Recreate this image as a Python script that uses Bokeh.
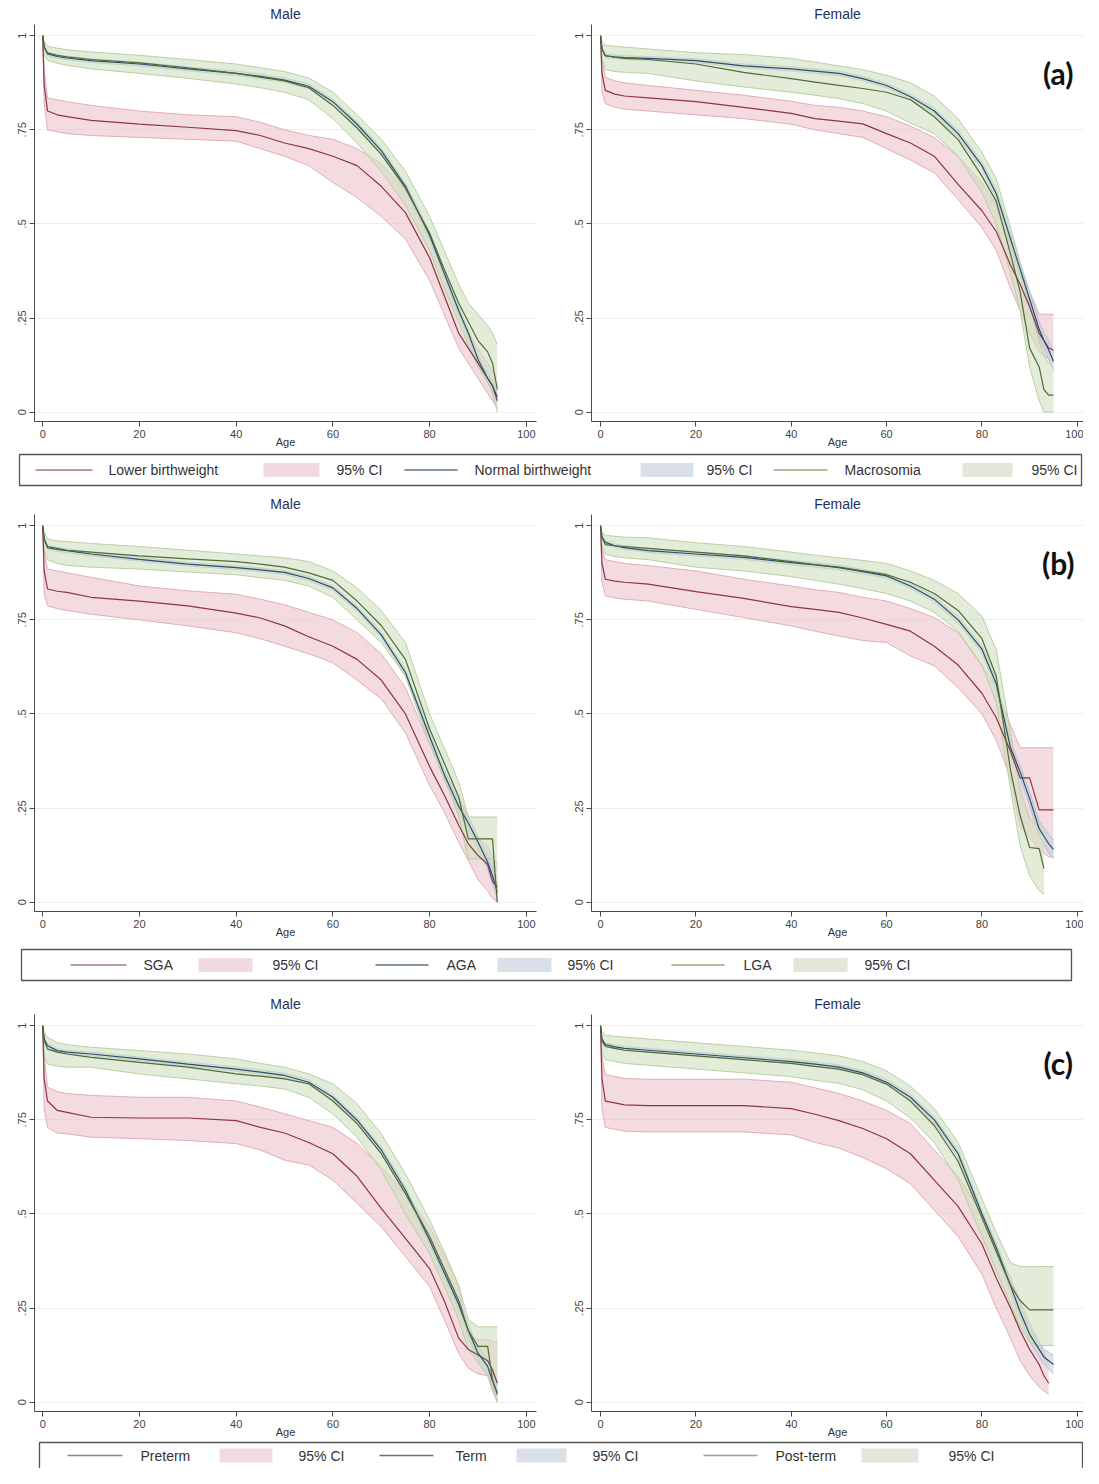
import math
from bokeh.plotting import figure
from bokeh.layouts import column, row
from bokeh.models import Range1d, FixedTicker, Label
from bokeh.embed import file_html
from bokeh.resources import INLINE
from bokeh.core.properties import value

N = float("nan")

# ---------------- data ----------------
AGE = [0, 0.3, 1, 3, 5, 10, 20, 30, 40, 45, 50, 55, 60, 65, 70, 75, 80, 83, 86, 88, 90, 92, 93, 94, 95]

# (a) Male
A_M_LBW    = [1.0, .87, .80, .79, .785, .775, .765, .757, .748, .735, .715, .70, .68, .655, .60, .53, .41, .31, .21, .17, .13, .09, .07, .03, N]
A_M_LBW_LO = [1.0, .82, .75, .745, .74, .735, .73, .725, .72, .70, .68, .655, .61, .57, .52, .46, .35, .26, .17, .13, .09, .05, .03, .01, N]
A_M_LBW_HI = [1.0, .91, .835, .83, .825, .815, .80, .79, .785, .77, .75, .735, .725, .70, .66, .59, .47, .36, .26, .21, .17, .13, .11, .07, N]
A_M_NBW    = [1.0, .97, .952, .945, .941, .934, .925, .912, .90, .892, .882, .866, .825, .765, .695, .60, .47, .37, .27, .21, .14, .09, .07, .04, N]
A_M_NBW_LO = [1.0, .966, .947, .94, .936, .929, .92, .907, .894, .886, .876, .86, .819, .758, .688, .592, .461, .36, .26, .198, .128, .078, .056, .025, N]
A_M_NBW_HI = [1.0, .974, .957, .95, .946, .939, .93, .917, .906, .898, .888, .872, .831, .772, .702, .608, .479, .38, .28, .222, .152, .102, .084, .055, N]
A_M_MAC    = [1.0, .97, .955, .948, .944, .937, .928, .915, .90, .89, .88, .862, .815, .755, .685, .595, .475, .38, .29, .24, .19, .16, .13, .06, N]
A_M_MAC_LO = [1.0, .95, .935, .927, .922, .912, .90, .887, .872, .862, .85, .83, .78, .715, .64, .55, .43, .33, .24, .18, .12, .08, .05, .0, N]
A_M_MAC_HI = [1.0, .985, .972, .967, .963, .957, .948, .937, .925, .915, .905, .888, .85, .79, .725, .64, .52, .43, .34, .29, .26, .23, .21, .18, N]

# (a) Female
A_F_LBW    = [1.0, .90, .855, .845, .84, .835, .825, .81, .794, .78, .773, .766, .74, .715, .68, .605, .535, .48, .39, .34, .28, .21, .19, .17, .165]
A_F_LBW_LO = [1.0, .85, .82, .81, .805, .80, .79, .78, .765, .75, .74, .73, .70, .67, .636, .565, .49, .43, .33, .27, .21, .16, .15, .14, .13]
A_F_LBW_HI = [1.0, .94, .89, .88, .875, .868, .855, .842, .826, .815, .81, .80, .785, .76, .73, .68, .61, .55, .44, .38, .32, .26, .26, .26, .26]
A_F_NBW    = [1.0, .965, .947, .944, .942, .94, .934, .92, .912, .906, .90, .886, .868, .838, .80, .74, .655, .58, .46, .38, .30, .22, .19, .165, .135]
A_F_NBW_LO = [1.0, .961, .942, .939, .937, .935, .929, .915, .906, .9, .894, .88, .862, .831, .792, .731, .645, .567, .445, .362, .28, .2, .168, .14, .11]
A_F_NBW_HI = [1.0, .969, .952, .949, .947, .945, .939, .925, .918, .912, .906, .892, .874, .845, .808, .749, .665, .593, .475, .398, .32, .24, .212, .19, .16]
A_F_MAC    = [1.0, .965, .947, .943, .94, .937, .925, .903, .886, .877, .868, .86, .85, .83, .785, .724, .627, .56, .42, .32, .17, .12, .06, .045, .045]
A_F_MAC_LO = [1.0, .94, .91, .905, .903, .90, .88, .864, .85, .842, .833, .82, .80, .768, .74, .68, .583, .50, .37, .27, .12, .03, .0, .0, .0]
A_F_MAC_HI = [1.0, .985, .975, .972, .97, .965, .955, .95, .94, .93, .92, .91, .895, .875, .84, .78, .69, .62, .49, .40, .28, .19, .15, .13, .12]

# (b) Male
B_M_SGA    = [1.0, .88, .832, .826, .823, .81, .80, .787, .768, .755, .734, .705, .68, .645, .59, .50, .36, .285, .205, .155, .124, .10, .055, .04, N]
B_M_SGA_LO = [1.0, .82, .787, .78, .775, .765, .75, .734, .716, .70, .68, .66, .636, .59, .54, .45, .31, .24, .16, .11, .06, .03, .01, .0, N]
B_M_SGA_HI = [1.0, .93, .885, .88, .875, .863, .84, .827, .818, .805, .79, .77, .75, .716, .66, .57, .42, .35, .28, .23, .17, .15, .12, .10, N]
B_M_AGA    = [1.0, .965, .942, .937, .934, .925, .911, .898, .889, .883, .876, .86, .835, .78, .71, .61, .44, .34, .255, .21, .16, .106, .07, .027, N]
B_M_AGA_LO = [1.0, .961, .937, .932, .929, .92, .906, .893, .884, .878, .871, .854, .829, .773, .703, .602, .43, .328, .241, .194, .142, .088, .05, .01, N]
B_M_AGA_HI = [1.0, .969, .947, .942, .939, .93, .916, .903, .894, .888, .881, .866, .841, .787, .717, .618, .45, .352, .269, .226, .178, .124, .09, .045, N]
B_M_LGA    = [1.0, .965, .945, .94, .935, .93, .92, .912, .905, .898, .89, .875, .855, .80, .735, .645, .46, .37, .28, .168, .168, .168, .168, .0, N]
B_M_LGA_LO = [1.0, .94, .91, .90, .895, .89, .885, .877, .87, .862, .855, .84, .81, .75, .69, .60, .42, .33, .23, .115, .115, .115, .115, .0, N]
B_M_LGA_HI = [1.0, .985, .965, .96, .958, .953, .945, .935, .925, .92, .915, .905, .88, .835, .775, .69, .50, .41, .32, .226, .226, .226, .226, .226, N]

# (b) Female
B_F_SGA    = [1.0, .90, .858, .853, .85, .845, .825, .807, .785, .778, .77, .755, .738, .72, .68, .63, .555, .49, .40, .33, .33, .245, .245, .245, .245]
B_F_SGA_LO = [1.0, .85, .814, .808, .805, .80, .778, .756, .734, .72, .707, .695, .69, .654, .628, .57, .50, .43, .33, .20, .17, .14, .13, .12, .12]
B_F_SGA_HI = [1.0, .94, .91, .905, .90, .894, .88, .858, .84, .83, .823, .81, .80, .78, .756, .716, .628, .57, .47, .41, .41, .41, .41, .41, .41]
B_F_AGA    = [1.0, .97, .956, .947, .942, .934, .925, .916, .902, .896, .889, .878, .867, .84, .805, .75, .672, .58, .41, .346, .275, .195, .175, .155, .14]
B_F_AGA_LO = [1.0, .966, .951, .942, .937, .929, .92, .911, .896, .89, .883, .872, .861, .833, .797, .741, .662, .567, .395, .33, .257, .175, .153, .13, .115]
B_F_AGA_HI = [1.0, .974, .961, .952, .947, .939, .93, .921, .908, .902, .895, .884, .873, .847, .813, .759, .682, .593, .425, .362, .293, .215, .197, .18, .165]
B_F_LGA    = [1.0, .97, .95, .947, .945, .94, .93, .92, .905, .897, .89, .88, .87, .85, .82, .775, .70, .60, .35, .23, .145, .142, .089, N, N]
B_F_LGA_LO = [1.0, .95, .925, .918, .915, .91, .89, .88, .865, .855, .845, .833, .82, .80, .77, .72, .63, .53, .30, .15, .07, .03, .02, N, N]
B_F_LGA_HI = [1.0, .985, .975, .972, .97, .968, .955, .945, .93, .922, .915, .908, .90, .88, .855, .82, .76, .67, .45, .30, .22, .20, .18, N, N]

# (c) Male
C_M_PRE    = [1.0, .86, .80, .775, .77, .757, .755, .755, .748, .73, .715, .69, .66, .60, .515, .435, .355, .27, .17, .14, .125, .11, .086, .05, N]
C_M_PRE_LO = [1.0, .78, .73, .715, .713, .704, .70, .695, .687, .67, .643, .63, .59, .528, .466, .387, .307, .22, .13, .09, .075, .07, .03, .0, N]
C_M_PRE_HI = [1.0, .92, .837, .825, .82, .815, .81, .81, .80, .784, .766, .748, .73, .687, .625, .554, .466, .39, .31, .175, .166, .166, .16, .16, N]
C_M_TRM    = [1.0, .965, .947, .934, .93, .925, .912, .898, .885, .877, .868, .85, .81, .749, .67, .563, .43, .345, .26, .19, .13, .095, .056, .025, N]
C_M_TRM_LO = [1.0, .961, .942, .929, .925, .92, .907, .893, .879, .871, .862, .844, .803, .742, .662, .554, .42, .333, .246, .174, .112, .075, .036, .005, N]
C_M_TRM_HI = [1.0, .969, .952, .939, .935, .93, .917, .903, .891, .883, .874, .856, .817, .756, .678, .572, .44, .357, .274, .206, .148, .115, .076, .045, N]
C_M_PST    = [1.0, .96, .938, .93, .925, .916, .903, .89, .872, .866, .859, .846, .80, .74, .66, .554, .44, .355, .27, .19, .148, .148, .06, .02, N]
C_M_PST_LO = [1.0, .92, .898, .893, .89, .89, .872, .859, .846, .84, .832, .81, .766, .704, .616, .50, .395, .31, .22, .14, .104, .07, .04, .0, N]
C_M_PST_HI = [1.0, .985, .969, .955, .95, .943, .934, .925, .912, .90, .89, .872, .846, .793, .713, .607, .484, .40, .31, .22, .20, .20, .20, .20, N]

# (c) Female
C_F_PRE    = [1.0, .86, .80, .795, .79, .788, .788, .788, .78, .765, .748, .727, .70, .66, .59, .52, .42, .33, .25, .19, .14, .10, .07, .05, N]
C_F_PRE_LO = [1.0, .78, .73, .725, .72, .718, .718, .718, .71, .69, .675, .65, .62, .58, .51, .44, .34, .25, .17, .11, .07, .04, .03, .02, N]
C_F_PRE_HI = [1.0, .92, .87, .865, .86, .858, .858, .858, .85, .835, .82, .80, .775, .74, .67, .60, .50, .41, .33, .27, .21, .16, .13, .10, N]
C_F_TRM    = [1.0, .965, .95, .944, .94, .935, .925, .915, .905, .898, .89, .875, .85, .81, .75, .66, .50, .41, .31, .24, .18, .14, .12, .11, .10]
C_F_TRM_LO = [1.0, .961, .945, .939, .935, .93, .92, .91, .899, .892, .884, .869, .843, .802, .742, .651, .49, .398, .296, .224, .162, .12, .1, .088, .075]
C_F_TRM_HI = [1.0, .969, .955, .949, .945, .94, .93, .92, .911, .904, .896, .881, .857, .818, .758, .669, .51, .422, .324, .256, .198, .16, .14, .132, .125]
C_F_PST    = [1.0, .96, .945, .94, .935, .93, .92, .91, .90, .892, .885, .87, .845, .80, .735, .64, .49, .40, .31, .27, .245, .245, .245, .245, .245]
C_F_PST_LO = [1.0, .93, .91, .905, .90, .895, .885, .875, .865, .855, .847, .83, .80, .755, .69, .59, .44, .35, .26, .20, .16, .15, .15, .15, .15]
C_F_PST_HI = [1.0, .985, .975, .972, .97, .965, .955, .945, .935, .928, .92, .905, .88, .84, .78, .69, .54, .45, .37, .36, .36, .36, .36, .36, .36]

X_TICKS = [0, 20, 40, 60, 80, 100]
Y_TICKS = [0, 0.25, 0.5, 0.75, 1]
Y_TICK_LABELS = {0: "0", 0.25: ".25", 0.5: ".5", 0.75: ".75", 1: "1"}
PANEL_TITLES = ["Male", "Female"]
ROW_TAGS = ["(a)", "(b)", "(c)"]
LEGEND_LABELS = [
    ["Lower birthweight", "95% CI", "Normal birthweight", "95% CI", "Macrosomia", "95% CI"],
    ["SGA", "95% CI", "AGA", "95% CI", "LGA", "95% CI"],
    ["Preterm", "95% CI", "Term", "95% CI", "Post-term", "95% CI"],
]

ROWS = [
    [[(A_M_LBW, A_M_LBW_LO, A_M_LBW_HI), (A_M_NBW, A_M_NBW_LO, A_M_NBW_HI), (A_M_MAC, A_M_MAC_LO, A_M_MAC_HI)],
     [(A_F_LBW, A_F_LBW_LO, A_F_LBW_HI), (A_F_NBW, A_F_NBW_LO, A_F_NBW_HI), (A_F_MAC, A_F_MAC_LO, A_F_MAC_HI)]],
    [[(B_M_SGA, B_M_SGA_LO, B_M_SGA_HI), (B_M_AGA, B_M_AGA_LO, B_M_AGA_HI), (B_M_LGA, B_M_LGA_LO, B_M_LGA_HI)],
     [(B_F_SGA, B_F_SGA_LO, B_F_SGA_HI), (B_F_AGA, B_F_AGA_LO, B_F_AGA_HI), (B_F_LGA, B_F_LGA_LO, B_F_LGA_HI)]],
    [[(C_M_PRE, C_M_PRE_LO, C_M_PRE_HI), (C_M_TRM, C_M_TRM_LO, C_M_TRM_HI), (C_M_PST, C_M_PST_LO, C_M_PST_HI)],
     [(C_F_PRE, C_F_PRE_LO, C_F_PRE_HI), (C_F_TRM, C_F_TRM_LO, C_F_TRM_HI), (C_F_PST, C_F_PST_LO, C_F_PST_HI)]],
]

# ---------------- styles / layout ----------------
LINE_COLORS = ["#8e3545", "#2c4d6e", "#4f6b35"]
FILL_COLORS = ["#ebc3ca", "#c3cfdc", "#cfe0bf"]
FILL_ALPHA = [0.6, 0.6, 0.6]
EDGE_COLORS = ["#e0aeb7", "#b3c2d2", "#b9d0a4"]
KEY_LINE_COLORS = ["#a07a84", "#5b7288", "#9ea57a"]
KEY_FILL_COLORS = ["#f1dbe0", "#d9e0e8", "#e2e7da"]
FONT = "Liberation Sans"
W_LEFT, W_RIGHT = 540, 543
PANEL_H = 450


def finite(xs, *cols):
    idx = [i for i in range(len(xs)) if all(not math.isnan(c[i]) for c in cols)]
    return [xs[i] for i in idx], [[c[i] for i in idx] for c in cols]


def make_panel(title, series, is_left, tag):
    if is_left:
        border_left, border_right, width, xr = 34, 4, W_LEFT, (-1.7, 102.1)
    else:
        border_left, border_right, width, xr = 51, 0, W_RIGHT, (-1.9, 101.3)
    p = figure(width=width, height=PANEL_H, output_backend="svg", toolbar_location=None,
               x_range=Range1d(*xr), y_range=Range1d(-0.025, 1.03),
               min_border_left=border_left, min_border_right=border_right,
               min_border_top=24, min_border_bottom=29)
    p.title.text = title
    p.title.align = "center"
    p.title.text_font = FONT
    p.title.text_font_size = "14px"
    p.title.text_font_style = "normal"
    p.title.text_color = "#23305e"
    p.title.standoff = 6
    p.outline_line_color = None
    p.background_fill_color = "white"
    p.border_fill_color = "white"

    p.xaxis.ticker = FixedTicker(ticks=X_TICKS)
    p.yaxis.ticker = FixedTicker(ticks=Y_TICKS)
    p.yaxis.major_label_overrides = Y_TICK_LABELS
    p.yaxis.major_label_orientation = "vertical"
    p.xaxis.axis_label = "Age"
    p.xaxis.axis_label_text_font = FONT
    p.xaxis.axis_label_text_font_size = "11px"
    p.xaxis.axis_label_text_font_style = "normal"
    p.xaxis.axis_label_text_color = "#333333"
    p.xaxis.axis_label_standoff = -5
    for ax in (p.xaxis, p.yaxis):
        ax.minor_tick_line_color = None
        ax.major_tick_in = 0
        ax.major_tick_out = 5
        ax.major_label_standoff = 3
        ax.axis_line_color = "#4a4a4a"
        ax.major_tick_line_color = "#4a4a4a"
        ax.major_label_text_font = FONT
        ax.major_label_text_font_size = "11px"
        ax.major_label_text_color = "#444444"
    p.xgrid.grid_line_color = None
    p.ygrid.ticker = FixedTicker(ticks=Y_TICKS)
    p.ygrid.grid_line_color = "#eeeeee"

    # confidence bands first, then the survival lines
    for k, (est, lo, hi) in enumerate(series):
        xs, (l, h) = finite(AGE, lo, hi)
        p.varea(x=xs, y1=l, y2=h, fill_color=FILL_COLORS[k], fill_alpha=FILL_ALPHA[k])
        p.line(xs, l, line_color=EDGE_COLORS[k], line_width=1)
        p.line(xs, h, line_color=EDGE_COLORS[k], line_width=1)
    for k, (est, lo, hi) in enumerate(series):
        xs, (e,) = finite(AGE, est)
        p.line(xs, e, line_color=LINE_COLORS[k], line_width=1.2)

    if tag:
        p.add_layout(Label(x=96.0, y=0.9, text=tag, text_font="Lato", text_font_style="bold",
                           text_font_size="30px", text_color="#111111",
                           text_align="center", text_baseline="middle"))
    return p


LEGEND_LAYOUT = [
    dict(box=(19, 1081, 4, 35), yc=19.5, h=40, bottom_line=True,
         keys=[(35, 92), (263, 319), (404, 457), (640, 693), (773, 827), (962, 1012)],
         texts=[108, 336, 474, 706, 844, 1031]),
    dict(box=(21, 1071, 9, 40), yc=24.5, h=50, bottom_line=True,
         keys=[(70, 126), (198, 252), (375, 428), (497, 551), (671, 724), (793, 847)],
         texts=[143, 272, 446, 567, 743, 864]),
    dict(box=(39, 1082, 2, 28), yc=15, h=28, bottom_line=False,
         keys=[(67, 122), (219, 272), (379, 433), (516, 566), (703, 757), (861, 918)],
         texts=[140, 298, 455, 592, 775, 948]),
]


def make_legend(labels, lay):
    W = W_LEFT + W_RIGHT
    H = lay["h"]
    p = figure(width=W, height=H, output_backend="svg", toolbar_location=None,
               x_range=Range1d(0, W), y_range=Range1d(H, 0),
               x_axis_type=None, y_axis_type=None, min_border=0)
    p.grid.visible = False
    p.outline_line_color = None
    bl, br, bt, bb = lay["box"]
    yc = lay["yc"]
    for i, lab in enumerate(labels):
        k = i // 2
        x0, x1 = lay["keys"][i]
        if i % 2 == 0:
            p.segment(x0=[x0], y0=[yc], x1=[x1], y1=[yc], line_color=KEY_LINE_COLORS[k], line_width=1.6)
        else:
            p.quad(left=[x0], right=[x1], top=[yc - 7], bottom=[yc + 7],
                   fill_color=KEY_FILL_COLORS[k], line_color=None)
        p.text(x=[lay["texts"][i]], y=[yc], text=[lab], text_baseline="middle",
               text_font=value(FONT), text_font_size="14px", text_color="#333333")
    if lay["bottom_line"]:
        p.quad(left=[bl], right=[br], top=[bt], bottom=[bb], fill_color=None,
               line_color="#555555", line_width=1.3)
    else:
        p.multi_line(xs=[[bl, bl, br, br]], ys=[[bb, bt, bt, bb]],
                     line_color="#555555", line_width=1.3)
    return p


children = []
for r in range(3):
    left = make_panel(PANEL_TITLES[0], ROWS[r][0], True, None)
    right = make_panel(PANEL_TITLES[1], ROWS[r][1], False, ROW_TAGS[r])
    children.append(row(left, right))
    children.append(make_legend(LEGEND_LABELS[r], LEGEND_LAYOUT[r]))

layout = column(*children)
open("out.html", "w").write(file_html(layout, INLINE))
